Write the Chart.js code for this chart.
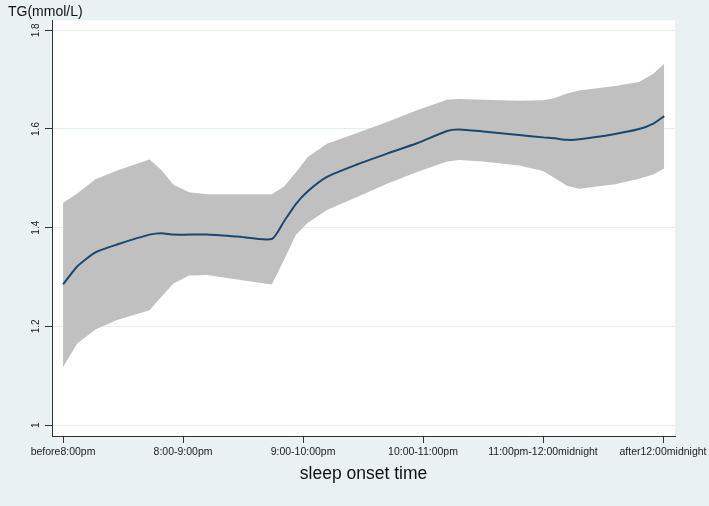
<!DOCTYPE html>
<html>
<head>
<meta charset="utf-8">
<script src="https://cdn.jsdelivr.net/npm/chart.js@4.4.1/dist/chart.umd.min.js"></script>
<style>
html,body{margin:0;padding:0;background:#eaf1f3;}
canvas{display:block;}
</style>
</head>
<body>
<canvas id="c" width="709" height="506"></canvas>
<script>
// Category labels (x ticks at positions 0..5)
const categories = ["before8:00pm", "8:00-9:00pm", "9:00-10:00pm", "10:00-11:00pm", "11:00pm-12:00midnight", "after12:00midnight"];
const xTickValues = [0, 1, 2, 3, 4, 5];

// Positions along the category axis where the curves were read
const xPositions = [0, 0.12, 0.27, 0.45, 0.72, 0.82, 0.92, 1.05, 1.2, 1.45, 1.74, 1.84, 1.94, 2.04, 2.2, 2.45, 2.7, 2.95, 3.2, 3.3, 3.5, 3.8, 4.0, 4.1, 4.2, 4.3, 4.6, 4.8, 4.92, 5.01];

// Fitted TG (mmol/L)
const fitted = [1.285, 1.322, 1.350, 1.366, 1.386, 1.389, 1.386, 1.386, 1.386, 1.382, 1.377, 1.412, 1.448, 1.474, 1.503, 1.528, 1.550, 1.571, 1.596, 1.599, 1.595, 1.588, 1.583, 1.581, 1.578, 1.579, 1.590, 1.600, 1.611, 1.626];

// Upper confidence bound
const upperCI = [1.450, 1.470, 1.498, 1.516, 1.538, 1.517, 1.487, 1.472, 1.468, 1.468, 1.468, 1.483, 1.512, 1.543, 1.570, 1.592, 1.614, 1.638, 1.659, 1.661, 1.659, 1.657, 1.658, 1.663, 1.672, 1.678, 1.687, 1.695, 1.712, 1.732];

// Lower confidence bound
const lowerCI = [1.118, 1.166, 1.194, 1.213, 1.233, 1.260, 1.287, 1.303, 1.304, 1.295, 1.285, 1.334, 1.385, 1.410, 1.436, 1.462, 1.489, 1.513, 1.534, 1.537, 1.534, 1.526, 1.515, 1.500, 1.485, 1.479, 1.488, 1.499, 1.508, 1.520];

// Y ticks
const yTickValues = [1, 1.2, 1.4, 1.6, 1.8];
const yTickLabels = ["1", "1.2", "1.4", "1.6", "1.8"];

const FONT = "'Liberation Sans', Arial, sans-serif";
const toPts = arr => xPositions.map((x, i) => ({x: x, y: arr[i]}));

const bgPlugin = {
  id: 'bg',
  beforeDraw(chart) {
    const {ctx, chartArea: a} = chart;
    ctx.save();
    ctx.fillStyle = '#eaf1f3';
    ctx.fillRect(0, 0, chart.width, chart.height);
    ctx.fillStyle = '#ffffff';
    ctx.fillRect(a.left, a.top, a.right - a.left, a.bottom - a.top);
    ctx.restore();
  }
};

new Chart(document.getElementById('c'), {
  type: 'line',
  data: {
    datasets: [
      {
        label: 'fitted',
        data: toPts(fitted),
        borderColor: '#1a476f',
        borderWidth: 2,
        pointRadius: 0,
        fill: false,
        tension: 0.2
      },
      {
        label: 'upper',
        data: toPts(upperCI),
        borderColor: 'rgba(0,0,0,0)',
        borderWidth: 1,
        backgroundColor: '#c0c0c0',
        pointRadius: 0,
        fill: '+1',
        tension: 0
      },
      {
        label: 'lower',
        data: toPts(lowerCI),
        borderColor: 'rgba(0,0,0,0)',
        borderWidth: 1,
        pointRadius: 0,
        fill: false,
        tension: 0
      }
    ]
  },
  options: {
    responsive: false,
    animation: false,
    devicePixelRatio: 1,
    layout: { padding: { left: 8, right: 34, top: 0, bottom: 0 } },
    plugins: {
      legend: { display: false },
      tooltip: { enabled: false },
      title: {
        display: true,
        text: 'TG(mmol/L)',
        align: 'start',
        color: '#111',
        font: { family: FONT, size: 14, weight: 'normal', lineHeight: 1.2 },
        padding: { top: 3.6, bottom: 0 }
      }
    },
    scales: {
      x: {
        type: 'linear',
        min: -0.092,
        max: 5.1,
        afterBuildTicks: s => { s.ticks = xTickValues.map(v => ({value: v})); },
        afterFit: s => { s.height = 70; s.paddingLeft = 0; s.paddingRight = 0; },
        ticks: {
          autoSkip: false, maxRotation: 0, minRotation: 0, padding: 3,
          color: '#222', font: { family: FONT, size: 10.5 },
          callback: (v, i) => categories[i]
        },
        grid: { drawOnChartArea: false, drawTicks: true, tickLength: 7, tickColor: '#333', color: '#333' },
        border: { display: true, color: '#333', width: 1 },
        title: {
          display: true, text: 'sleep onset time', color: '#111',
          font: { family: FONT, size: 17.5, lineHeight: 1.2 },
          padding: { top: 0, bottom: 21.5 }
        }
      },
      y: {
        min: 0.978,
        max: 1.82,
        afterBuildTicks: s => { s.ticks = yTickValues.map(v => ({value: v})); },
        afterFit: s => { s.width = 44; s.paddingTop = 0; s.paddingBottom = 0; },
        ticks: {
          minRotation: 90, maxRotation: 90, crossAlign: 'center', padding: 2,
          color: '#222', font: { family: FONT, size: 10 },
          callback: (v, i) => yTickLabels[i]
        },
        grid: { color: '#e6edf0', tickColor: '#333', tickLength: 7, drawTicks: true },
        border: { display: true, color: '#333', width: 1 }
      }
    }
  },
  plugins: [bgPlugin]
});
</script>
</body>
</html>
